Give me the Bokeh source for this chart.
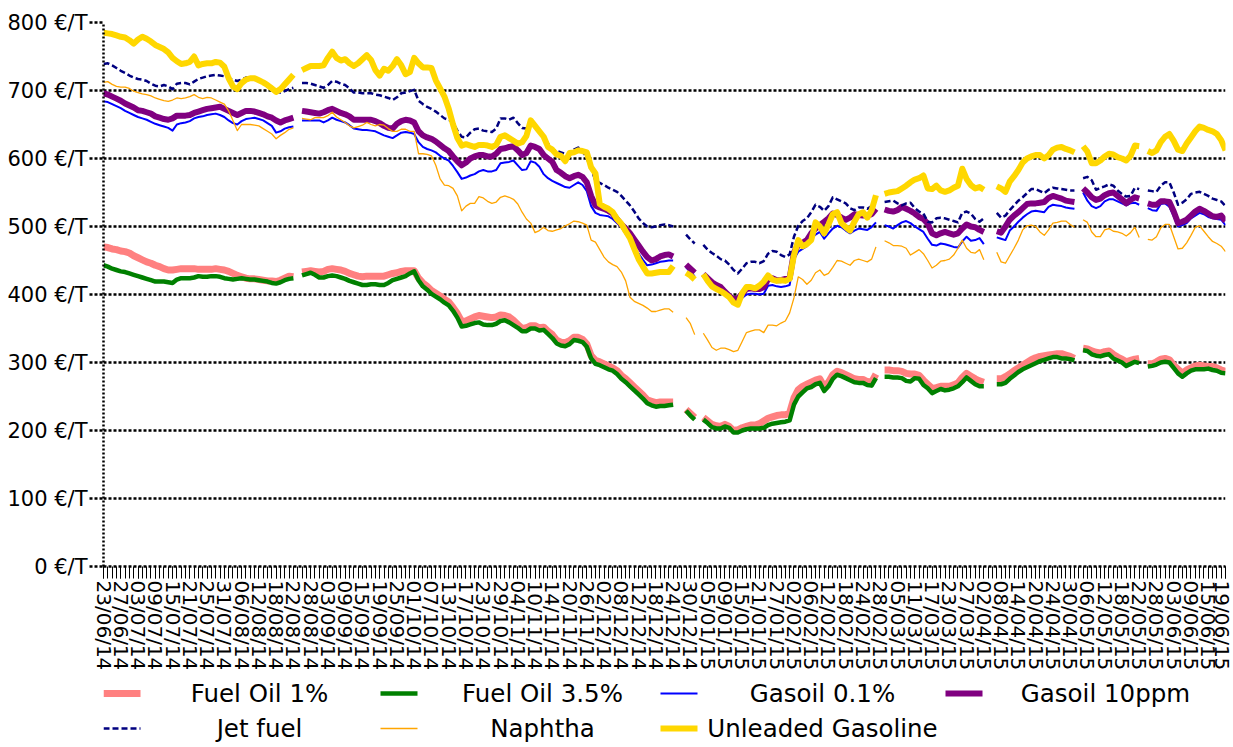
import math
from bokeh.plotting import figure
from bokeh.models import FixedTicker, Range1d, ColumnDataSource, PrintfTickFormatter
from bokeh.layouts import column
from bokeh.embed import file_html
from bokeh.resources import INLINE
from bokeh.core.properties import value

N = None

tick_labels = [
    "23/06/14", "27/06/14", "03/07/14", "09/07/14", "15/07/14", "21/07/14", "25/07/14", "31/07/14",
    "06/08/14", "12/08/14", "18/08/14", "22/08/14", "28/08/14", "03/09/14", "09/09/14", "15/09/14",
    "19/09/14", "25/09/14", "01/10/14", "07/10/14", "13/10/14", "17/10/14", "23/10/14", "29/10/14",
    "04/11/14", "10/11/14", "14/11/14", "20/11/14", "26/11/14", "02/12/14", "08/12/14", "12/12/14",
    "18/12/14", "24/12/14", "30/12/14", "05/01/15", "09/01/15", "15/01/15", "21/01/15", "27/01/15",
    "02/02/15", "06/02/15", "12/02/15", "18/02/15", "24/02/15", "28/02/15", "05/03/15", "11/03/15",
    "17/03/15", "23/03/15", "27/03/15", "02/04/15", "08/04/15", "14/04/15", "20/04/15", "24/04/15",
    "30/04/15", "06/05/15", "12/05/15", "18/05/15", "22/05/15", "28/05/15", "03/06/15", "09/06/15",
    "15/06/15", "19/06/15",
]
label_step = 4
y_ticks = [0, 100, 200, 300, 400, 500, 600, 700, 800]

fuel_oil_1 = [
    470, 469, 467, 466, 464, 463, 461, 457, 454, 451,
    448, 446, 443, 441, 438, 436, 436, 437, 438, 438,
    438, 438, 437, 437, 437, 437, 438, 437, 436, 434,
    431, 428, 426, 424, 423, 423, 422, 421, 420, 420,
    419, 421, 424, 427, 426, N, 433, 434, 435, 434,
    433, 434, 437, 438, 437, 436, 434, 431, 429, 427,
    426, 427, 427, 427, 427, 427, 429, 431, 432, 434,
    435, 435, 435, 424, 417, 412, 406, 402, 398, 393,
    389, 381, 372, 360, 361, 364, 367, 369, 368, 367,
    366, 367, 370, 369, 367, 362, 356, 350, 351, 354,
    354, 351, 352, 346, 341, 333, 330, 329, 332, 337,
    337, 334, 327, 310, 303, 301, 298, 295, 292, 288,
    281, 276, 270, 264, 258, 252, 245, 243, 241, 242,
    242, 242, 242, N, N, 231, 225, 219, N, 219,
    214, 209, 207, 206, 209, 206, 200, 201, 204, 206,
    208, 208, 210, 214, 218, 220, 222, 223, 223, 226,
    248, 260, 265, 268, 271, 274, 276, 264, 271, 282,
    287, 285, 282, 279, 276, 275, 275, 272, 271, 283,
    N, 289, 289, 288, 288, 287, 284, 283, 283, 281,
    274, 268, 262, 263, 265, 265, 265, 267, 270, 278,
    284, 280, 276, 273, 271, N, N, 276, 276, 279,
    283, 288, 292, 296, 300, 304, 307, 309, 310, 311,
    312, 313, 313, 311, 309, 306, N, 321, 320, 317,
    315, 314, 316, 317, 312, 308, 305, 301, 303, 305,
    306, N, 298, 298, 301, 305, 306, 304, 296, 290,
    284, 289, 292, 295, 296, 295, 294, 294, 292, 289,
    287,
]

fuel_oil_35 = [
    443, 441, 438, 436, 434, 433, 431, 429, 427, 425,
    423, 421, 419, 419, 419, 418, 417, 422, 424, 424,
    424, 425, 427, 426, 426, 427, 427, 426, 424, 423,
    422, 423, 424, 423, 422, 422, 421, 420, 419, 417,
    416, 418, 421, 423, 424, N, 428, 430, 432, 429,
    425, 425, 427, 428, 427, 425, 423, 420, 418, 416,
    414, 414, 415, 415, 414, 414, 417, 421, 423, 425,
    427, 431, 434, 421, 412, 407, 401, 397, 393, 388,
    384, 376, 366, 353, 354, 356, 358, 359, 356, 355,
    355, 357, 361, 362, 359, 355, 351, 346, 346, 350,
    350, 347, 348, 342, 336, 328, 325, 324, 327, 333,
    332, 330, 323, 306, 298, 296, 293, 290, 288, 283,
    276, 271, 265, 259, 253, 247, 240, 237, 235, 236,
    236, 237, 238, N, N, 229, 222, 216, N, 216,
    211, 205, 203, 203, 206, 204, 197, 197, 200, 202,
    203, 203, 203, 204, 208, 210, 211, 212, 213, 215,
    238, 250, 256, 262, 264, 268, 270, 258, 265, 276,
    282, 280, 277, 274, 271, 270, 270, 267, 266, 277,
    N, 279, 279, 278, 278, 277, 273, 272, 277, 276,
    267, 262, 255, 258, 261, 259, 260, 262, 265, 271,
    278, 273, 268, 265, 265, N, N, 268, 268, 270,
    276, 281, 286, 290, 293, 296, 299, 302, 304, 306,
    308, 308, 306, 306, 305, 303, N, 318, 317, 312,
    310, 309, 311, 312, 306, 303, 300, 295, 298, 301,
    299, N, 294, 295, 297, 300, 301, 300, 292, 284,
    279, 284, 288, 290, 290, 290, 291, 289, 288, 285,
    284,
]

gasoil_01 = [
    684, 683, 680, 677, 674, 670, 667, 664, 661, 659,
    657, 654, 651, 649, 647, 645, 641, 650, 652, 653,
    655, 659, 661, 662, 664, 665, 666, 664, 661, 656,
    652, 650, 655, 658, 659, 660, 658, 656, 652, 648,
    638, 640, 644, 646, 647, N, 656, 656, 656, 656,
    656, 653, 656, 660, 657, 655, 653, 649, 644, 643,
    642, 642, 641, 640, 637, 634, 632, 630, 634, 638,
    639, 638, 636, 624, 617, 614, 612, 609, 604, 600,
    597, 589, 580, 570, 572, 575, 577, 581, 583, 581,
    581, 583, 593, 594, 595, 597, 590, 583, 584, 596,
    594, 588, 577, 571, 567, 564, 561, 558, 557, 561,
    565, 561, 552, 530, 520, 517, 516, 515, 511, 505,
    499, 489, 480, 470, 460, 451, 443, 444, 446, 448,
    449, 450, 450, N, N, 440, 433, 427, N, 428,
    422, 416, 410, 406, 401, 394, 387, 386, 395, 400,
    401, 401, 400, 401, 413, 414, 412, 411, 412, 414,
    452, 463, 467, 471, 483, 488, 492, 482, 490, 497,
    501, 499, 494, 490, 494, 497, 496, 495, 499, 506,
    N, 502, 500, 497, 502, 506, 508, 505, 500, 496,
    492, 482, 473, 472, 475, 474, 472, 470, 469, 478,
    485, 479, 480, 483, 474, N, N, 484, 482, 480,
    494, 500, 507, 513, 518, 522, 523, 522, 521, 529,
    532, 531, 530, 528, 527, 526, N, 550, 538, 530,
    527, 530, 537, 540, 540, 537, 534, 531, 534, 535,
    532, N, 527, 524, 523, 533, 534, 529, 515, 500,
    502, 505, 512, 516, 520, 518, 514, 512, 511, 510,
    502,
]

gasoil_10ppm = [
    696, 694, 691, 688, 685, 681, 678, 675, 671, 670,
    668, 666, 662, 660, 658, 657, 659, 663, 663, 663,
    664, 667, 669, 671, 673, 674, 675, 676, 673, 670,
    667, 664, 667, 670, 670, 669, 667, 665, 662, 660,
    656, 653, 656, 658, 660, N, 670, 669, 668, 667,
    666, 668, 671, 673, 670, 667, 665, 662, 657, 657,
    657, 657, 657, 655, 652, 648, 645, 644, 651, 655,
    657, 656, 653, 640, 634, 631, 629, 625, 620, 615,
    611, 603, 596, 590, 594, 600, 603, 605, 605, 603,
    603, 607, 614, 615, 617, 618, 612, 605, 608, 619,
    617, 614, 605, 600, 595, 583, 579, 574, 571, 574,
    576, 573, 565, 545, 531, 528, 526, 523, 519, 511,
    503, 497, 490, 481, 472, 463, 455, 450, 452, 456,
    458, 459, 456, N, N, 444, 438, 432, N, 430,
    424, 418, 414, 411, 404, 398, 393, 394, 401, 408,
    409, 408, 408, 411, 422, 424, 421, 421, 423, 424,
    462, 473, 476, 480, 490, 497, 502, 507, 512, 519,
    517, 513, 510, 513, 518, 517, 516, 516, 518, 526,
    N, 525, 523, 522, 524, 529, 526, 523, 519, 514,
    511, 504, 490, 487, 490, 492, 490, 488, 490, 497,
    503, 500, 499, 495, 492, N, N, 493, 491, 500,
    510, 516, 521, 527, 533, 534, 534, 535, 536, 542,
    545, 543, 541, 538, 537, 536, N, 556, 550, 543,
    539, 541, 546, 549, 550, 545, 540, 534, 539, 543,
    541, N, 534, 532, 532, 537, 537, 536, 522, 505,
    507, 510, 516, 522, 526, 523, 519, 515, 514, 516,
    508,
]

jet_fuel = [
    739, 740, 737, 733, 729, 726, 722, 719, 717, 716,
    714, 710, 707, 706, 708, 706, 702, 710, 711, 711,
    709, 713, 717, 719, 721, 722, 723, 722, 721, 718,
    716, 714, 716, 719, 718, 716, 715, 713, 710, 705,
    698, 697, 699, 702, 704, N, 711, 711, 710, 708,
    706, 704, 708, 714, 713, 710, 708, 703, 697, 697,
    696, 696, 696, 694, 693, 691, 689, 686, 690, 696,
    697, 699, 701, 685, 680, 676, 673, 669, 664, 659,
    657, 653, 641, 632, 631, 638, 643, 644, 641, 640,
    639, 644, 659, 659, 657, 660, 652, 645, 644, 654,
    648, 640, 633, 622, 614, 611, 609, 607, 606, 613,
    616, 612, 600, 586, 567, 564, 561, 557, 554, 551,
    545, 538, 531, 522, 512, 505, 500, 499, 500, 502,
    503, 502, 500, N, N, 488, 481, 475, N, 473,
    466, 461, 457, 452, 450, 444, 436, 431, 438, 446,
    448, 448, 446, 449, 460, 464, 463, 458, 455, 459,
    485, 501, 508, 512, 521, 532, 529, 523, 530, 543,
    540, 537, 534, 527, 524, 528, 528, 526, 530, 538,
    N, 536, 537, 538, 534, 531, 534, 535, 527, 522,
    519, 507, 506, 512, 513, 512, 510, 508, 506, 520,
    522, 519, 511, 507, 512, N, N, 520, 513, 516,
    524, 531, 538, 543, 549, 555, 555, 552, 549, 554,
    557, 556, 555, 554, 553, 553, N, 571, 573, 568,
    554, 557, 559, 562, 560, 553, 548, 544, 545, 557,
    555, N, 553, 552, 551, 560, 565, 565, 550, 532,
    535, 540, 548, 550, 551, 548, 545, 541, 539, 537,
    530,
]

naphtha = [
    712, 713, 709, 706, 705, 705, 703, 699, 697, 695,
    694, 692, 689, 687, 685, 684, 686, 689, 688, 689,
    691, 694, 690, 688, 690, 689, 686, 683, 680, 670,
    656, 641, 650, 650, 650, 649, 648, 644, 640, 636,
    629, 634, 638, 643, 645, N, 659, 658, 657, 660,
    660, 660, 663, 668, 661, 657, 653, 648, 645, 647,
    649, 653, 650, 648, 650, 649, 644, 640, 640, 643,
    643, 640, 640, 607, 607, 606, 604, 590, 570, 561,
    560, 556, 545, 523, 530, 534, 534, 544, 542, 537,
    534, 536, 543, 545, 543, 540, 533, 521, 511, 505,
    491, 494, 499, 494, 493, 495, 497, 501, 504, 508,
    507, 505, 502, 480, 477, 466, 455, 448, 444, 441,
    433, 420, 396, 390, 387, 384, 380, 375, 375, 377,
    379, 379, 374, N, N, 366, 357, 341, N, 343,
    333, 322, 318, 321, 321, 319, 316, 318, 331, 344,
    346, 348, 348, 344, 355, 355, 354, 358, 361, 373,
    395, 426, 422, 415, 421, 432, 436, 428, 431, 440,
    450, 449, 446, 443, 450, 452, 450, 448, 452, 470,
    N, 479, 476, 472, 472, 471, 468, 458, 462, 466,
    460, 450, 439, 443, 449, 450, 452, 458, 468, 480,
    468, 462, 461, 466, 451, N, N, 462, 448, 446,
    457, 468, 480, 495, 501, 502, 500, 492, 487, 495,
    505, 506, 508, 508, 503, 499, N, 510, 506, 492,
    485, 485, 495, 497, 493, 492, 490, 486, 491, 499,
    484, N, 481, 480, 485, 498, 503, 503, 485, 467,
    468, 476, 487, 499, 501, 493, 485, 478, 475, 471,
    463,
]

unleaded = [
    785, 784, 783, 781, 779, 778, 774, 769, 775, 779,
    776, 772, 767, 764, 761, 756, 748, 743, 739, 740,
    742, 750, 737, 739, 740, 740, 742, 741, 735, 718,
    706, 702, 711, 716, 718, 718, 715, 712, 708, 703,
    698, 702, 709, 716, 723, N, 730, 733, 736, 736,
    736, 737, 748, 757, 748, 744, 746, 740, 736, 740,
    746, 752, 745, 730, 722, 732, 729, 736, 746, 737,
    724, 727, 748, 740, 734, 734, 733, 715, 703, 691,
    673, 650, 630, 619, 621, 619, 617, 620, 620, 619,
    617, 620, 632, 634, 630, 626, 622, 624, 633, 656,
    648, 640, 632, 617, 613, 606, 604, 596, 608, 609,
    612, 611, 609, 587, 578, 533, 529, 526, 521, 511,
    504, 493, 483, 467, 452, 441, 431, 431, 432, 433,
    433, 433, 442, N, N, 432, 428, 422, N, 430,
    420, 412, 408, 405, 401, 396, 388, 385, 402, 411,
    411, 409, 413, 419, 428, 422, 420, 421, 420, 423,
    458, 480, 471, 474, 480, 506, 500, 490, 503, 518,
    521, 505, 499, 494, 507, 518, 521, 513, 524, 546,
    N, 548, 550, 551, 552, 556, 560, 565, 569, 571,
    575, 556, 555, 560, 553, 551, 553, 557, 560, 585,
    570, 561, 556, 558, 554, N, N, 559, 556, 551,
    566, 574, 583, 594, 600, 603, 605, 605, 600, 605,
    613, 616, 617, 614, 612, 609, N, 618, 610, 593,
    593, 597, 603, 607, 606, 602, 600, 597, 604, 619,
    618, N, 611, 608, 612, 624, 632, 636, 626, 613,
    611, 622, 631, 640, 647, 645, 642, 640, 636, 627,
    612,
]

series = [
    ("Fuel Oil 1%", fuel_oil_1, "#FF8080", 7, "solid"),
    ("Fuel Oil 3.5%", fuel_oil_35, "#008000", 4.5, "solid"),
    ("Gasoil 0.1%", gasoil_01, "#0000FF", 2, "solid"),
    ("Gasoil 10ppm", gasoil_10ppm, "#800080", 6, "solid"),
    ("Jet fuel", jet_fuel, "#000080", 2.5, "6 3"),
    ("Naphtha", naphtha, "#FFA500", 1.3, "solid"),
    ("Unleaded Gasoline", unleaded, "#FFD700", 6, "solid"),
]

n_last = label_step * (len(tick_labels) - 1)

W = 1233
BL, BR = 103, 8

p = figure(width=W, height=673, x_range=Range1d(0, n_last), y_range=Range1d(0, 800),
           output_backend="svg", toolbar_location=None,
           min_border_left=BL, min_border_right=BR, min_border_top=22, min_border_bottom=106)
p.outline_line_color = None
p.background_fill_color = "white"
p.border_fill_color = "white"

for name, vals, color, width, dash in series:
    ys = [float("nan") if v is None else v for v in vals]
    src = ColumnDataSource(dict(x=list(range(len(ys))), y=ys))
    p.line("x", "y", source=src, line_color=color, line_width=width, line_dash=dash,
           line_join="round")

# y axis / grid
p.xgrid.grid_line_color = None
p.ygrid.ticker = FixedTicker(ticks=y_ticks)
p.ygrid.grid_line_color = "black"
p.ygrid.grid_line_width = 2.5
p.ygrid.grid_line_dash = "3 2"
p.yaxis.ticker = FixedTicker(ticks=y_ticks)
p.yaxis.formatter = PrintfTickFormatter(format="%d €/T")
p.yaxis.major_label_text_font = "DejaVu Sans"
p.yaxis.major_label_text_font_size = "21px"
p.yaxis.major_label_text_color = "black"
p.yaxis.major_label_standoff = 2
p.yaxis.axis_line_color = "black"
p.yaxis.axis_line_width = 2.5
p.yaxis.axis_line_dash = "2 2"
p.yaxis.major_tick_line_color = "black"
p.yaxis.major_tick_line_width = 2.5
p.yaxis.major_tick_line_dash = "3 2"
p.yaxis.major_tick_out = 14
p.yaxis.major_tick_in = 0
p.yaxis.minor_tick_line_color = None

# x axis
major = list(range(0, n_last + 1, label_step))
p.xaxis.ticker = FixedTicker(ticks=major, minor_ticks=list(range(0, n_last + 1)))
p.xaxis.major_label_overrides = {t: lab for t, lab in zip(major, tick_labels)}
p.xaxis.major_label_orientation = "vertical"
p.xaxis.major_label_text_font = "DejaVu Sans"
p.xaxis.major_label_text_font_size = "20px"
p.xaxis.major_label_text_color = "black"
p.xaxis.major_label_standoff = 2
p.xaxis.axis_line_color = "black"
p.xaxis.axis_line_width = 2.5
p.xaxis.axis_line_dash = "3 2"
p.xaxis.major_tick_line_color = "black"
p.xaxis.major_tick_line_width = 1
p.xaxis.major_tick_out = 12
p.xaxis.major_tick_in = 0
p.xaxis.minor_tick_line_color = "black"
p.xaxis.minor_tick_line_width = 1
p.xaxis.minor_tick_out = 12
p.xaxis.minor_tick_in = 0

# legend (4 columns, 2 rows) drawn below the chart; its frame lines up with the chart frame,
# so its x range is expressed in page pixels of that frame
LH = 73
leg = figure(width=W, height=LH, x_range=Range1d(BL, W - BR), y_range=Range1d(0, LH),
             output_backend="svg", toolbar_location=None,
             min_border_left=BL, min_border_right=BR, min_border_top=0, min_border_bottom=0,
             x_axis_location=None, y_axis_location=None)
leg.outline_line_color = None
leg.grid.visible = False
col_x = [103, 380, 660, 945]
text_cx = [259, 542, 822, 1105]
row_y = [LH - 20, LH - 55]
glyph_len = 37
for k, (name, vals, color, width, dash) in enumerate(series):
    r, c = divmod(k, 4)
    leg.line([col_x[c], col_x[c] + glyph_len], [row_y[r], row_y[r]], line_color=color,
             line_width=width, line_dash=dash)
    leg.text([text_cx[c]], [row_y[r]], text=[name], text_align="center",
             text_baseline="middle", text_font=value("DejaVu Sans"),
             text_font_size="24.5px", text_color="black")

layout = column(p, leg, spacing=0)
open("out.html", "w").write(file_html(layout, INLINE))
